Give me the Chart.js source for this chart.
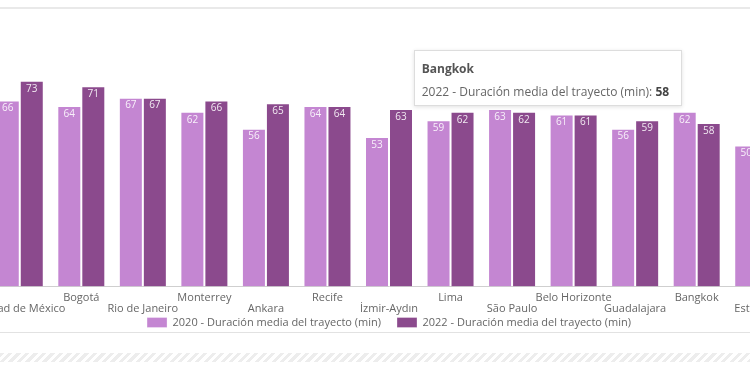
<!DOCTYPE html>
<html>
<head>
<meta charset="utf-8">
<script src="https://cdn.jsdelivr.net/npm/chart.js@4.4.1/dist/chart.umd.min.js"></script>
<style>
  html, body { margin: 0; padding: 0; width: 750px; height: 375px; overflow: hidden; background: #fff; }
  #topline { position: absolute; left: 0; top: 7px; width: 750px; height: 2px; background: #e9e9e9; }
  #botline { position: absolute; left: 0; top: 332px; width: 750px; height: 1px; background: #e2e2e2; }
  #hatch { position: absolute; left: 0; top: 353px; width: 750px; height: 9px;
    background: repeating-linear-gradient(135deg, #ededed 0 3px, #ffffff 3px 6px); }
  #wrap { position: absolute; left: -11px; top: 10px; width: 800px; height: 328px; }
  #tip { position: absolute; background: #fff; border: 1px solid #ddd; box-shadow: 0 1px 4px rgba(0,0,0,0.12);
    font-family: "Open Sans", sans-serif; font-size: 12px; color: #666; padding: 9px 7px 10px 7px; box-sizing: border-box;
    white-space: nowrap; display: none; }
  #tip .t { font-weight: bold; color: #555; margin-bottom: 6px; }
  #tip b { color: #444; }
</style>
</head>
<body>
<div id="topline"></div>
<div id="wrap"><canvas id="c"></canvas></div>
<div id="botline"></div>
<div id="hatch"></div>
<div id="tip"></div>
<script>
const categories = ["Ciudad de México", "Bogotá", "Rio de Janeiro", "Monterrey", "Ankara", "Recife", "İzmir-Aydın", "Lima", "São Paulo", "Belo Horizonte", "Guadalajara", "Bangkok", "Estambul"];
const values2020 = [66, 64, 67, 62, 56, 64, 53, 59, 63, 61, 56, 62, 50];
const values2022 = [73, 71, 67, 66, 65, 64, 63, 62, 62, 61, 59, 58, 55];
const seriesNames = ["2020 - Duración media del trayecto (min)", "2022 - Duración media del trayecto (min)"];

const valueLabels = {
  id: 'valueLabels',
  afterDatasetsDraw(chart) {
    const ctx = chart.ctx;
    ctx.save();
    ctx.font = '10px "Open Sans", sans-serif';
    ctx.fillStyle = 'rgba(255,255,255,0.88)';
    ctx.textAlign = 'center';
    ctx.textBaseline = 'middle';
    chart.data.datasets.forEach((ds, di) => {
      const meta = chart.getDatasetMeta(di);
      meta.data.forEach((el, i) => {
        ctx.fillText(String(ds.data[i]), el.x, el.y + 8);
      });
    });
    ctx.restore();
  }
};

function externalTip({ chart, tooltip }) {
  const tip = document.getElementById('tip');
  if (tooltip.opacity === 0 || !tooltip.dataPoints || !tooltip.dataPoints.length) { tip.style.display = 'none'; return; }
  const dp = tooltip.dataPoints[0];
  tip.innerHTML = '<div class="t">' + dp.label + '</div>' +
    '<div>' + dp.dataset.label + ': <b>' + dp.raw + '</b></div>';
  tip.style.display = 'block';
  tip.style.height = '56px';
  tip.style.width = '268px';
  const wrap = document.getElementById('wrap');
  const w = tip.offsetWidth;
  tip.style.left = (wrap.offsetLeft + tooltip.caretX - w - 27) + 'px';
  tip.style.top = (wrap.offsetTop + tooltip.caretY - 73) + 'px';
}

const chart = new Chart(document.getElementById('c'), {
  type: 'bar',
  data: {
    labels: categories,
    datasets: [
      { label: seriesNames[0], data: values2020, backgroundColor: '#c486d2', borderColor: 'rgba(255,255,255,0.3)', borderWidth: 1 },
      { label: seriesNames[1], data: values2022, backgroundColor: '#8b4a8d', borderColor: 'rgba(255,255,255,0.3)', borderWidth: 1 }
    ]
  },
  plugins: [valueLabels],
  options: {
    responsive: true,
    maintainAspectRatio: false,
    animation: false,
    layout: { padding: { top: 51, left: 0, right: 0, bottom: 0 } },
    datasets: { bar: { barPercentage: 1, categoryPercentage: 0.78 } },
    scales: {
      x: {
        grid: { display: false, drawTicks: false },
        border: { display: true, color: '#cfcfcf' },
        afterFit(scale) {
          scale.paddingLeft = 0; scale.paddingRight = 0; scale.height = 14.5;
          scale._computeLabelArea = () => undefined;
        },
        ticks: {
          color: '#666', font: { family: '"Open Sans", sans-serif', size: 11, lineHeight: 1.0 }, padding: 6,
          maxRotation: 0, autoSkip: false,
          callback(v, i) { const l = this.getLabelForValue(v); return i % 2 === 0 ? ['', l] : [l]; }
        }
      },
      y: { display: false, min: 0, max: 80 }
    },
    plugins: {
      legend: {
        position: 'bottom',
        labels: { color: '#666', font: { family: '"Open Sans", sans-serif', size: 11 }, boxWidth: 20, boxHeight: 10, padding: 16 }
      },
      tooltip: { enabled: false, external: externalTip }
    }
  }
});
chart.tooltip.setActiveElements([{ datasetIndex: 1, index: 11 }], { x: 0, y: 0 });
chart.update();
</script>
</body>
</html>
